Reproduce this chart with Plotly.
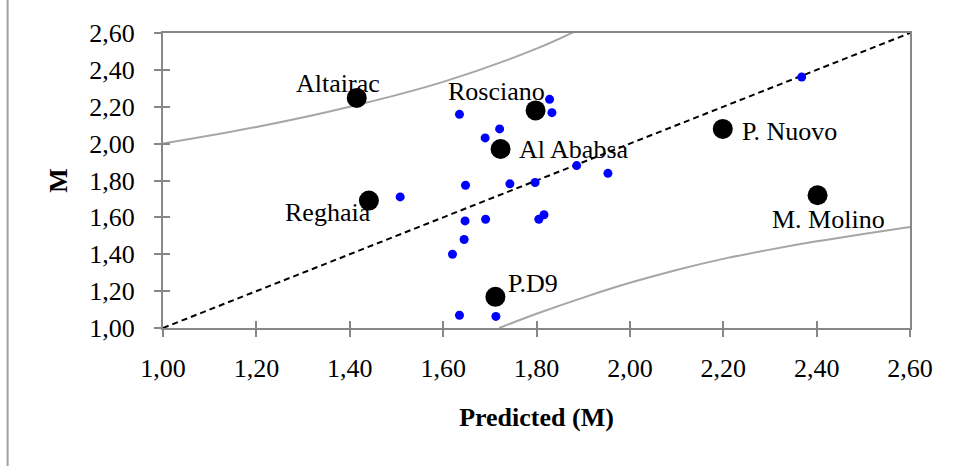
import plotly.graph_objects as go

# ---------------- data ----------------
site_names = ["Altairac", "Rosciano", "Al Ababsa", "P. Nuovo", "M. Molino", "Reghaia", "P.D9"]
site_pred = [1.415, 1.798, 1.723, 2.199, 2.402, 1.441, 1.712]
site_obs = [2.248, 2.180, 1.971, 2.080, 1.720, 1.691, 1.169]

other_pred = [1.635, 1.828, 1.833, 1.721, 1.690, 1.886, 1.953, 1.648, 1.743, 1.797,
              1.508, 1.647, 1.645, 1.620, 1.635, 1.691, 1.805, 1.816, 1.713, 2.368]
other_obs = [2.159, 2.240, 2.168, 2.080, 2.031, 1.881, 1.839, 1.774, 1.782, 1.789,
             1.711, 1.581, 1.480, 1.400, 1.069, 1.590, 1.590, 1.614, 1.063, 2.361]

upper_x = [1.00, 1.20, 1.40, 1.60, 1.80, 1.90]
upper_y = [2.00, 2.09, 2.20, 2.335, 2.515, 2.63]
lower_x = [1.72, 1.80, 1.90, 2.00, 2.10, 2.20, 2.30, 2.40, 2.50, 2.60]
lower_y = [1.00, 1.077, 1.165, 1.245, 1.315, 1.375, 1.425, 1.47, 1.51, 1.548]

line_x = [1.00, 2.60]
line_y = [1.00, 2.60]

tick_vals = [1.0, 1.2, 1.4, 1.6, 1.8, 2.0, 2.2, 2.4, 2.6]
tick_text = ["1,00", "1,20", "1,40", "1,60", "1,80", "2,00", "2,20", "2,40", "2,60"]

# label offsets in pixels (xshift, yshift)
label_shift = {
    "Altairac": (-19, 14),
    "Rosciano": (-39, 19),
    "Al Ababsa": (73, -1),
    "P. Nuovo": (67, -3),
    "M. Molino": (11, -24),
    "Reghaia": (-41, -12),
    "P.D9": (38, 13),
}

FONT = "Liberation Serif, Times New Roman, serif"
AXC = "#878787"

fig = go.Figure()
fig.add_trace(go.Scatter(x=upper_x, y=upper_y, mode="lines", line=dict(color="#a6a6a6", width=2, shape="spline"),
                         hoverinfo="skip", showlegend=False))
fig.add_trace(go.Scatter(x=lower_x, y=lower_y, mode="lines", line=dict(color="#a6a6a6", width=2, shape="spline"),
                         hoverinfo="skip", showlegend=False))
fig.add_trace(go.Scatter(x=line_x, y=line_y, mode="lines", line=dict(color="black", width=2, dash="6px,4px"),
                         hoverinfo="skip", showlegend=False))
fig.add_trace(go.Scatter(x=other_pred, y=other_obs, mode="markers",
                         marker=dict(color="#0000ff", size=9), showlegend=False))
fig.add_trace(go.Scatter(x=site_pred, y=site_obs, mode="markers",
                         marker=dict(color="black", size=20), showlegend=False))
# invisible trace to activate overlay axes (for crossing ticks)
fig.add_trace(go.Scatter(x=[1.0], y=[1.0], xaxis="x2", yaxis="y2", mode="markers",
                         marker=dict(opacity=0), hoverinfo="skip", showlegend=False))

for name, xv, yv in zip(site_names, site_pred, site_obs):
    dx, dy = label_shift[name]
    fig.add_annotation(x=xv, y=yv, text=name, showarrow=False, xshift=dx, yshift=dy,
                       font=dict(family=FONT, size=26, color="black"))

axis_common = dict(range=[1.0, 2.6], tickvals=tick_vals, ticktext=tick_text,
                   showgrid=False, zeroline=False, showline=True, linecolor=AXC, linewidth=2,
                   mirror=True, ticks="outside", ticklen=7, tickwidth=2, tickcolor=AXC,
                   tickfont=dict(family=FONT, size=26, color="black"))

fig.update_layout(
    width=953, height=466,
    margin=dict(l=163, r=43, t=33, b=138),
    paper_bgcolor="white", plot_bgcolor="white",
    font=dict(family=FONT, size=26, color="black"),
    xaxis=dict(**axis_common, ticklabelstandoff=9,
               title=dict(text="<b>Predicted (M)</b>", font=dict(family=FONT, size=26), standoff=26)),
    yaxis=dict(**axis_common, ticklabelstandoff=14,
               title=dict(text="<b>M</b>", font=dict(family=FONT, size=26), standoff=14)),
    xaxis2=dict(range=[1.0, 2.6], tickvals=tick_vals, overlaying="x", anchor="y", side="bottom",
                showticklabels=False, showgrid=False, zeroline=False, showline=False,
                ticks="inside", ticklen=7, tickwidth=2, tickcolor=AXC),
    yaxis2=dict(range=[1.0, 2.6], tickvals=tick_vals, overlaying="y", anchor="x", side="left",
                showticklabels=False, showgrid=False, zeroline=False, showline=False,
                ticks="inside", ticklen=7, tickwidth=2, tickcolor=AXC),
    shapes=[dict(type="line", xref="paper", yref="paper", x0=-0.208, x1=-0.208, y0=-0.5, y1=1.2,
                 line=dict(color="#a0a0a0", width=2))],
)

fig.write_html("out.html")
